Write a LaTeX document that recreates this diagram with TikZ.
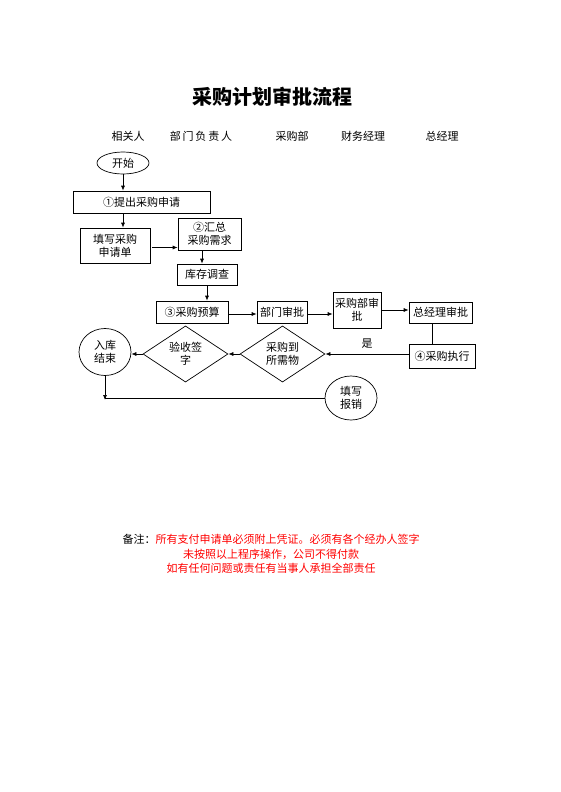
\documentclass[tikz,border=0pt]{standalone}
\usepackage{fontspec}
\setmainfont{Noto Sans CJK SC}
\usetikzlibrary{shapes.geometric,arrows.meta,calc}
\begin{document}
\begin{tikzpicture}[x=1pt,y=-1pt,
  every node/.style={font=\fontsize{11}{13}\selectfont},
  box/.style={draw,rectangle,inner sep=0pt,align=center,line width=0.7pt},
  oval/.style={draw,ellipse,inner sep=0pt,align=center,line width=0.7pt},
  dia/.style={draw,diamond,inner sep=0pt,align=center,line width=0.7pt,minimum width=85pt,minimum height=52pt},
  arr/.style={-{Latex[length=5pt,width=4pt]},line width=0.7pt},
  ln/.style={line width=0.7pt},
  hdr/.style={font=\fontsize{11}{13}\selectfont}
]
\useasboundingbox (0,0) rectangle (560,792);
\fill[white] (0,0) rectangle (560,792);

\node[font=\fontsize{20}{24}\selectfont\bfseries] (title) at (272,97) {采购计划审批流程};
\node[hdr] (h1) at (128,136) {相关人};
\node[hdr] (h2) at (201,136) {部\,门\,负\,责\,人};
\node[hdr] (h3) at (292,136) {采购部};
\node[hdr] (h4) at (363,136) {财务经理};
\node[hdr] (h5) at (442,136) {总经理};

\node[oval,minimum width=52pt,minimum height=22pt] (ks) at (123,163) {开始};
\node[box,minimum width=137pt,minimum height=22pt] (tc) at (141.5,202) {①提出采购申请};
\node[box,minimum width=70pt,minimum height=35pt] (tx) at (115,245.5) {填写采购\\申请单};
\node[box,minimum width=63pt,minimum height=32pt] (hz) at (209.5,234) {②汇总\\采购需求};
\node[box,minimum width=60pt,minimum height=21pt] (kc) at (207,274.5) {库存调查};
\node[box,minimum width=72pt,minimum height=22pt] (ys) at (192,312) {③采购预算};
\node[box,minimum width=50pt,minimum height=22pt] (bm) at (282,312) {部门审批};
\node[box,minimum width=48pt,minimum height=36pt] (cgb) at (357,310) {采购部审\\批};
\node[box,minimum width=63pt,minimum height=21pt] (zjl) at (440.5,312.5) {总经理审批};
\node[box,minimum width=66pt,minimum height=24pt] (zx) at (442,356) {④采购执行};
\node[dia] (dw) at (282.5,354) {采购到\\所需物};
\node[dia] (yq) at (185.5,354) {验收签\\字};
\node[oval,minimum width=52pt,minimum height=47pt] (rk) at (105,352) {入库\\结束};
\node[oval,minimum width=52pt,minimum height=44pt] (bx) at (351,398) {填写\\报销};
\coordinate (cn) at (rk.south |- bx.west);

\draw[arr] (ks.south) -- (ks.south |- tc.north);
\draw[arr] (ks.south |- tc.south) -- (ks.south |- tx.north);
\draw[arr,shorten <=2pt] ([yshift=-2pt]tx.east) -- ([yshift=-2pt]tx.east -| hz.west);
\draw[arr] ([xshift=-5pt]kc.north |- hz.south) -- ([xshift=-5pt]kc.north);
\draw[arr] (kc.south) -- (kc.south |- ys.north);
\draw[arr] ([yshift=-2pt]ys.east) -- ([yshift=-2pt]bm.west);
\draw[arr] ([yshift=-2pt]bm.east) -- ([yshift=-2pt]bm.east -| cgb.west);
\draw[arr] (cgb.east) -- (cgb.east -| zjl.west);
\draw[ln] ([xshift=-8.5pt]zjl.south) -- ([xshift=-8.5pt]zjl.south |- zx.north);
\draw[arr] (zx.west |- dw.east) -- (dw.east) node[midway,above=2pt] {是};
\draw[arr] (dw.west) -- (yq.east);
\draw[arr] (yq.west) -- (yq.west -| rk.east);
\draw[arr] (rk.south) -- ([yshift=-2pt]cn);
\draw[ln] (cn) -- (bx.west);

\node[align=center,font=\fontsize{11}{14.5}\selectfont] (note) at (271,554) {备注：\textcolor{red}{所有支付申请单必须附上凭证。必须有各个经办人签字}\\
\textcolor{red}{未按照以上程序操作，公司不得付款}\\
\textcolor{red}{如有任何问题或责任有当事人承担全部责任}};
\end{tikzpicture}
\end{document}
